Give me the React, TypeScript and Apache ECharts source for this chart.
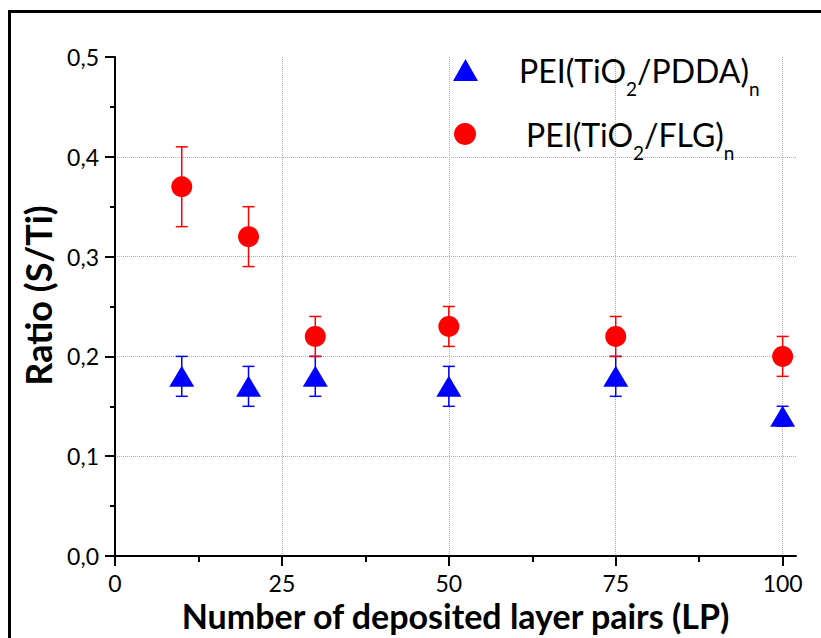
import React, { useEffect, useRef } from 'react';
import * as echarts from 'echarts';

const xValues = [10, 20, 30, 50, 75, 100];
const pddaRatio = [0.18, 0.17, 0.18, 0.17, 0.18, 0.14];
const pddaErr = [0.02, 0.02, 0.02, 0.02, 0.02, 0.01];
const flgRatio = [0.37, 0.32, 0.22, 0.23, 0.22, 0.2];
const flgErr = [0.04, 0.03, 0.02, 0.02, 0.02, 0.02];
const xMajorTicks = [0, 25, 50, 75, 100];
const xMinorTicks = [12.5, 37.5, 62.5, 87.5];

const FONT = 'Lato';

function errData(vals: number[], errs: number[]) {
  return xValues.map((x, i) => [x, vals[i] - errs[i], vals[i] + errs[i]]);
}

function errRender(color: string) {
  return (params: any, api: any) => {
    const x = api.value(0);
    const lo = api.coord([x, api.value(1)]);
    const hi = api.coord([x, api.value(2)]);
    const hw = 6;
    const style = { stroke: color, lineWidth: 1.5 };
    return {
      type: 'group',
      children: [
        { type: 'line', shape: { x1: lo[0], y1: lo[1], x2: hi[0], y2: hi[1] }, style },
        { type: 'line', shape: { x1: hi[0] - hw, y1: hi[1], x2: hi[0] + hw, y2: hi[1] }, style },
        { type: 'line', shape: { x1: lo[0] - hw, y1: lo[1], x2: lo[0] + hw, y2: lo[1] }, style },
      ],
    };
  };
}

const rich = {
  a: { fontSize: 32, fontFamily: FONT, color: '#000' },
  s: { fontSize: 19, fontFamily: FONT, color: '#000', padding: [36, 0, 0, 0] },
};

export default function App() {
  const ref = useRef<HTMLDivElement>(null);
  useEffect(() => {
    document.body.style.margin = '0';
    const chart = echarts.init(ref.current!, null, { renderer: 'svg' });
    const axisLineStyle = { color: '#000', width: 2 };
    const option: any = {
      animation: false,
      backgroundColor: '#fff',
      grid: { left: 115, right: 25, top: 57, bottom: 82 },
      graphic: [
        {
          type: 'rect',
          shape: { x: 9.5, y: 11.5, width: 1000, height: 1000 },
          style: { fill: 'none', stroke: '#000', lineWidth: 3 },
          z: 100,
        },
      ],
      legend: [
        {
          data: ['PDDA'],
          left: 448,
          top: 49,
          itemWidth: 25,
          itemHeight: 22,
          formatter: () => '{a|PEI(TiO}{s|2}{a|/PDDA)}{s|n}',
          textStyle: { rich, padding: [0, 0, 0, 36] },
        },
        {
          data: ['FLG'],
          left: 449,
          top: 113,
          itemWidth: 22,
          itemHeight: 22,
          formatter: () => '{a|PEI(TiO}{s|2}{a|/FLG)}{s|n}',
          textStyle: { rich, padding: [0, 0, 0, 45] },
        },
      ],
      xAxis: [
        {
          type: 'value',
          min: 0,
          max: 102,
          interval: 25,
          position: 'bottom',
          name: 'Number of deposited layer pairs (LP)',
          nameLocation: 'middle',
          nameGap: 41,
          nameTextStyle: { fontSize: 34, fontWeight: 'bold', fontFamily: FONT, color: '#000' },
          axisLine: { show: true, lineStyle: axisLineStyle },
          axisTick: { show: true, length: 10, lineStyle: axisLineStyle, customValues: xMajorTicks },
          axisLabel: { customValues: xMajorTicks, fontSize: 23, fontFamily: FONT, color: '#000', margin: 15 },
          splitLine: {
            show: true,
            showMinLine: false,
            showMaxLine: true,
            lineStyle: { type: 'dotted', color: '#b0b0b0', width: 1 },
          },
        },
        {
          type: 'value',
          min: 0,
          max: 102,
          position: 'bottom',
          axisLine: { show: false },
          axisTick: { show: true, length: 6, lineStyle: axisLineStyle, customValues: xMinorTicks },
          axisLabel: { show: false },
          splitLine: { show: false },
        },
      ],
      yAxis: {
        type: 'value',
        min: 0,
        max: 0.5,
        interval: 0.1,
        name: 'Ratio (S/Ti)',
        nameLocation: 'middle',
        nameRotate: 90,
        nameGap: 58,
        nameTextStyle: {
          fontSize: 36,
          fontWeight: 'bold',
          fontFamily: FONT,
          color: '#000',
          padding: [0, 0, 0, 22],
        },
        axisLine: { show: true, lineStyle: axisLineStyle },
        axisTick: { show: true, length: 10, lineStyle: axisLineStyle },
        minorTick: { show: true, splitNumber: 2, length: 5, lineStyle: axisLineStyle },
        axisLabel: {
          fontSize: 23,
          fontFamily: FONT,
          color: '#000',
          margin: 16,
          formatter: (v: number) => v.toFixed(1).replace('.', ','),
        },
        splitLine: {
          show: true,
          showMinLine: false,
          showMaxLine: false,
          lineStyle: { type: 'dotted', color: '#b0b0b0', width: 1 },
        },
      },
      series: [
        {
          name: 'PDDA-err',
          type: 'custom',
          renderItem: errRender('#0000ff'),
          data: errData(pddaRatio, pddaErr),
          encode: { x: 0, y: [1, 2] },
          z: 2,
        },
        {
          name: 'FLG-err',
          type: 'custom',
          renderItem: errRender('#ff0000'),
          data: errData(flgRatio, flgErr),
          encode: { x: 0, y: [1, 2] },
          z: 2,
        },
        {
          name: 'PDDA',
          type: 'scatter',
          symbol: 'triangle',
          symbolSize: [25, 21],
          itemStyle: { color: '#0000ff', opacity: 1 },
          data: xValues.map((x, i) => [x, pddaRatio[i]]),
          z: 3,
        },
        {
          name: 'FLG',
          type: 'scatter',
          symbol: 'circle',
          symbolSize: 21,
          itemStyle: { color: '#ff0000', opacity: 1 },
          data: xValues.map((x, i) => [x, flgRatio[i]]),
          z: 3,
        },
      ],
    };
    chart.setOption(option);
    return () => chart.dispose();
  }, []);
  return <div ref={ref} style={{ width: 821, height: 638 }} />;
}
